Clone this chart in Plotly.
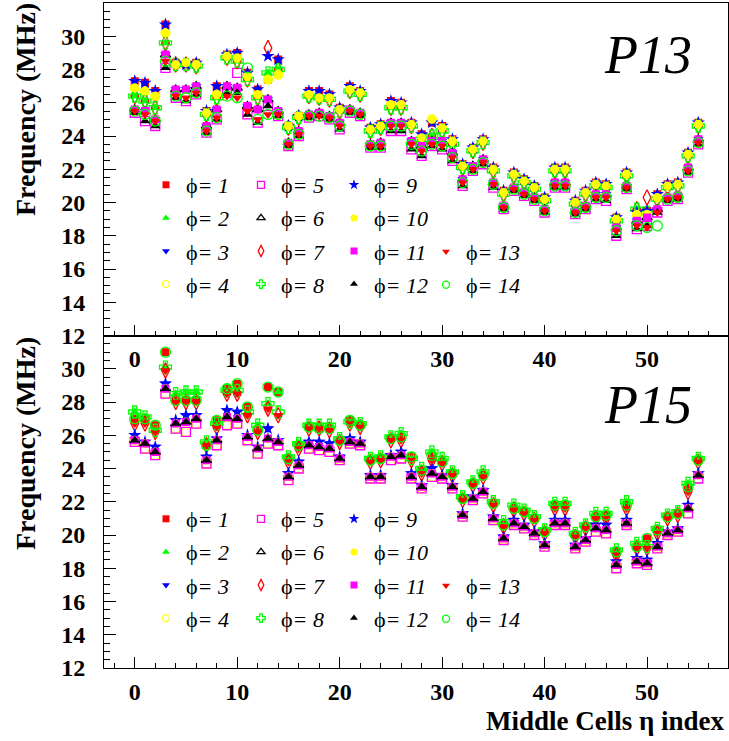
import plotly.graph_objects as go

# ---------------- data ----------------
eta_index = list(range(56))

# P13 : six clusters of values per eta index (upper group: hi/mid/lo, lower group: hi/mid/lo)
p13_up_hi = [27.3, 27.2, 26.7, 30.7, 28.4, 28.3, 28.4, 25.5, 27.0, 28.9,
             29.0, 27.8, 26.8, 28.8, 28.6, 24.6, 25.2, 26.7, 26.7, 26.5,
             25.7, 27.0, 26.7, 24.5, 24.7, 26.1, 26.0, 24.8, 24.1, 24.8,
             24.6, 23.8, 22.3, 23.3, 23.8, 22.1, 20.7, 21.8, 21.4, 21.0,
             20.3, 22.1, 22.1, 20.1, 20.7, 21.2, 21.1, 19.1, 21.8, 19.4,
             19.5, 20.5, 21.1, 21.2, 23.0, 24.8]
p13_up_mid = [26.9, 26.7, 26.4, 30.2, 28.3, 28.4, 28.3, 25.4, 26.5, 28.8,
              28.7, 27.6, 26.5, 27.4, 27.7, 24.6, 25.2, 26.5, 26.3, 26.3,
              25.6, 26.8, 26.6, 24.4, 24.6, 25.9, 25.9, 24.7, 23.9, 25.0,
              24.5, 23.7, 22.2, 23.2, 23.7, 22.0, 20.6, 21.7, 21.3, 20.9,
              20.2, 22.0, 22.0, 20.0, 20.6, 21.1, 21.0, 19.0, 21.7, 19.3,
              19.3, 20.3, 21.0, 21.1, 22.9, 24.7]
p13_up_lo = [26.4, 26.1, 25.7, 29.6, 28.3, 28.3, 28.2, 25.3, 26.3, 28.7,
             28.5, 27.4, 26.3, 27.8, 28.0, 24.5, 25.1, 26.4, 26.3, 26.2,
             25.5, 26.7, 26.5, 24.3, 24.5, 25.7, 25.7, 24.6, 23.8, 24.0,
             24.3, 23.5, 22.1, 23.1, 23.6, 21.9, 20.5, 21.6, 21.2, 20.8,
             20.1, 21.9, 21.9, 19.9, 20.5, 21.0, 20.9, 18.9, 21.6, 19.6,
             19.4, 20.2, 20.9, 21.0, 22.8, 24.6]
p13_low_hi = [25.6, 25.5, 25.0, 28.9, 26.8, 26.8, 27.0, 24.6, 25.6, 27.0,
              26.9, 25.8, 25.6, 26.2, 25.5, 23.6, 24.3, 25.3, 25.4, 25.2,
              24.8, 25.6, 25.4, 23.5, 23.6, 24.8, 24.8, 23.7, 23.4, 23.7,
              23.7, 23.0, 21.4, 22.2, 22.6, 21.2, 19.8, 20.9, 20.6, 20.3,
              19.6, 21.2, 21.2, 19.5, 19.8, 20.5, 20.5, 18.5, 21.0, 18.9,
              19.1, 19.6, 20.3, 20.4, 22.1, 23.8]
p13_low_mid = [25.5, 25.3, 24.9, 28.5, 26.4, 26.3, 26.6, 24.3, 25.1, 26.4,
               26.3, 25.5, 25.0, 25.3, 25.3, 23.5, 24.1, 25.2, 25.2, 25.1,
               24.6, 25.5, 25.3, 23.4, 23.4, 24.6, 24.6, 23.5, 23.1, 23.5,
               23.4, 22.7, 21.2, 22.0, 22.4, 21.1, 19.7, 20.8, 20.5, 20.2,
               19.5, 21.0, 21.0, 19.4, 19.7, 20.3, 20.3, 18.3, 20.9, 18.6,
               18.5, 19.4, 20.2, 20.3, 21.9, 23.6]
p13_low_lo = [25.4, 24.9, 24.6, 28.1, 26.3, 26.1, 26.5, 24.2, 25.0, 26.6,
              26.6, 25.3, 24.8, 25.8, 25.2, 23.4, 24.0, 25.1, 25.2, 25.0,
              24.4, 25.4, 25.2, 23.3, 23.3, 24.3, 24.3, 23.2, 22.8, 23.4,
              23.2, 22.5, 21.0, 21.9, 22.3, 20.9, 19.6, 20.7, 20.4, 20.1,
              19.4, 20.9, 20.9, 19.3, 19.6, 20.2, 20.1, 18.0, 20.8, 18.4,
              18.6, 19.4, 20.1, 20.2, 21.8, 23.5]

# P15
p15_up_hi = [27.0, 27.0, 26.6, 31.0, 28.1, 28.1, 28.1, 25.4, 26.9, 28.8,
             29.1, 27.7, 26.3, 28.9, 28.6, 24.6, 25.4, 26.5, 26.4, 26.4,
             25.7, 26.9, 26.6, 24.5, 24.6, 25.8, 25.9, 24.7, 23.9, 24.8,
             24.4, 23.7, 22.2, 23.1, 23.6, 21.9, 20.6, 21.6, 21.4, 21.0,
             20.2, 21.8, 21.8, 20.0, 20.5, 21.1, 21.2, 19.0, 21.8, 19.3,
             19.8, 20.3, 21.1, 21.3, 22.9, 24.5]
p15_up_mid = [27.4, 27.1, 26.3, 30.1, 28.5, 28.6, 28.6, 25.6, 26.7, 28.7,
              28.7, 27.4, 26.6, 27.9, 27.4, 24.7, 25.5, 26.6, 26.6, 26.6,
              25.8, 26.8, 26.7, 24.6, 24.7, 25.9, 26.1, 24.6, 24.0, 25.0,
              24.6, 23.8, 22.3, 23.2, 23.8, 22.0, 20.8, 21.8, 21.5, 21.1,
              20.3, 21.9, 21.9, 20.1, 20.6, 21.3, 21.3, 19.1, 22.0, 19.5,
              19.3, 20.4, 21.2, 21.4, 23.1, 24.6]
p15_up_lo = [26.7, 26.7, 26.2, 29.9, 28.0, 28.0, 28.0, 25.4, 26.5, 28.5,
             28.5, 27.2, 26.2, 27.6, 27.2, 24.4, 25.2, 26.4, 26.4, 26.3,
             25.6, 26.7, 26.5, 24.4, 24.5, 25.7, 25.7, 24.5, 23.7, 24.5,
             24.3, 23.6, 22.1, 23.0, 23.5, 21.8, 20.5, 21.5, 21.3, 20.9,
             20.1, 21.6, 21.6, 19.9, 20.4, 21.0, 21.0, 18.8, 21.6, 19.2,
             19.2, 20.1, 21.0, 21.2, 22.6, 24.4]
p15_low_hi = [26.0, 25.6, 25.3, 29.1, 26.9, 27.2, 27.2, 24.7, 25.8, 27.5,
              27.4, 26.0, 25.3, 26.4, 25.7, 23.7, 24.4, 25.6, 25.6, 25.5,
              24.7, 25.8, 25.6, 23.6, 23.6, 24.8, 25.0, 23.7, 23.0, 24.0,
              23.6, 23.0, 21.3, 22.3, 22.7, 21.1, 19.9, 20.9, 20.6, 20.2,
              19.5, 20.9, 20.9, 19.4, 19.8, 20.6, 20.6, 18.4, 20.9, 18.6,
              18.5, 19.5, 20.2, 20.4, 21.8, 23.7]
p15_low_mid = [25.7, 25.5, 25.0, 28.8, 26.7, 26.8, 27.0, 24.5, 25.7, 27.1,
               27.0, 25.9, 25.2, 25.8, 25.6, 23.5, 24.2, 25.4, 25.3, 25.2,
               24.6, 25.6, 25.5, 23.5, 23.5, 24.7, 24.8, 23.5, 22.9, 23.7,
               23.5, 22.9, 21.2, 22.2, 22.6, 21.0, 19.8, 20.7, 20.5, 20.1,
               19.4, 20.7, 20.7, 19.3, 19.7, 20.4, 20.3, 18.2, 20.7, 18.4,
               18.3, 19.3, 20.1, 20.3, 21.6, 23.6]
p15_low_lo = [25.6, 25.2, 24.8, 28.5, 26.4, 26.2, 26.7, 24.3, 25.4, 26.6,
              26.7, 25.7, 24.9, 25.5, 25.4, 23.3, 24.0, 25.2, 25.1, 25.0,
              24.5, 25.5, 25.4, 23.4, 23.4, 24.5, 24.6, 23.4, 22.8, 23.5,
              23.4, 22.8, 21.1, 22.1, 22.5, 20.9, 19.7, 20.6, 20.4, 20.0,
              19.3, 20.6, 20.6, 19.2, 19.6, 20.2, 20.1, 18.0, 20.6, 18.3,
              18.2, 19.2, 20.0, 20.2, 21.3, 23.4]

# which cluster each phi channel sits in (as seen in the picture)
p13_cluster_of_phi = {1: p13_up_hi, 9: p13_up_hi, 4: p13_up_mid, 10: p13_up_mid,
                      2: p13_up_lo, 7: p13_up_lo, 8: p13_up_lo,
                      3: p13_low_hi, 6: p13_low_hi, 11: p13_low_hi,
                      13: p13_low_mid, 14: p13_low_mid, 5: p13_low_lo, 12: p13_low_lo}
p15_cluster_of_phi = {1: p15_up_hi, 14: p15_up_hi, 2: p15_up_mid, 8: p15_up_mid,
                      7: p15_up_lo, 13: p15_up_lo, 3: p15_low_hi, 9: p15_low_hi,
                      6: p15_low_mid, 10: p15_low_mid, 11: p15_low_mid, 12: p15_low_mid,
                      4: p15_low_lo, 5: p15_low_lo}
# individual points that stand apart from their cluster: {phi: {eta: value}}
p13_outliers = {7: {13: 29.3, 50: 20.3}, 14: {11: 28.1, 51: 18.6}, 5: {10: 27.8}, 1: {13: 27.4}}
p15_outliers = {2: {14: 28.6}}

phi_channels = list(range(1, 15))
y_tick_values = [12, 14, 16, 18, 20, 22, 24, 26, 28, 30]
x_tick_values = [0, 10, 20, 30, 40, 50]
y_tick_text = ["<b>12</b>", "<b>14</b>", "<b>16</b>", "<b>18</b>", "<b>20</b>",
               "<b>22</b>", "<b>24</b>", "<b>26</b>", "<b>28</b>", "<b>30</b>"]
x_tick_text = ["<b>0</b>", "<b>10</b>", "<b>20</b>", "<b>30</b>", "<b>40</b>", "<b>50</b>"]

# ---------------- styles ----------------
RED, GREEN, BLUE, YEL, MAG, BLK = "#ff0000", "#00ff00", "#0000ff", "#ffff00", "#ff00ff", "#000000"
style = {
    1: ("square", RED, 8), 2: ("triangle-up", GREEN, 9), 3: ("triangle-down", BLUE, 9),
    4: ("circle-open", YEL, 9), 5: ("square-open", MAG, 9), 6: ("triangle-up-open", BLK, 9),
    7: ("diamond-tall-open", RED, 11), 8: ("cross-open", GREEN, 10), 9: ("star", BLUE, 10),
    10: ("circle", YEL, 9), 11: ("square", MAG, 8), 12: ("triangle-up", BLK, 9),
    13: ("triangle-down", RED, 9), 14: ("circle-open", GREEN, 10),
}
legend_marker_size = {1: 7, 2: 7, 3: 7, 4: 7, 5: 7, 6: 7, 7: 8, 8: 7, 9: 8, 10: 7, 11: 7, 12: 7, 13: 7, 14: 7}

W, H = 729, 741
ML, MR, MT, MB = 104, 1, 3, 73
PW, PH = W - ML - MR, H - MT - MB
px2x = lambda px: (px - ML) / PW
py2y = lambda py: (H - MB - py) / PH

SERIF = "Liberation Serif"

fig = go.Figure()


def marker_dict(k, size):
    sym, col, _ = style[k]
    is_open = sym.endswith("-open")
    return dict(symbol=sym, color=col, size=size,
                line=dict(color=col, width=1.3 if is_open else 0))


panels = [("x", "y", p13_cluster_of_phi, p13_outliers, 0),
          ("x2", "y2", p15_cluster_of_phi, p15_outliers, 4)]
for xa, ya, cluster, outl, leg0 in panels:
    for k in phi_channels:
        vals = list(cluster[k])
        for e, v in outl.get(k, {}).items():
            vals[e] = v
        fig.add_trace(go.Scatter(x=eta_index, y=vals, mode="markers", xaxis=xa, yaxis=ya,
                                 marker=marker_dict(k, style[k][2]), showlegend=False,
                                 hoverinfo="x+y", name=f"phi={k}"))
    # legend entries (column-wise, like the original)
    for k in phi_channels:
        if k <= 4:
            col = 0
        elif k <= 8:
            col = 1
        elif k <= 12:
            col = 2
        else:
            col = 3
        idx = leg0 + col
        lname = "legend" if idx == 0 else f"legend{idx + 1}"
        fig.add_trace(go.Scatter(x=[None], y=[None], mode="markers", xaxis=xa, yaxis=ya,
                                 marker=marker_dict(k, legend_marker_size[k]),
                                 name=f"ϕ<i>= {k}</i>", legend=lname, legendgroup=f"{xa}g{k}",
                                 showlegend=True))

# legends
marker_cols = [167, 262, 355, 447]
row0 = {0: 187, 4: 521}
ROW_STEP = 33.4
layout_legends = {}
for leg0 in (0, 4):
    for col in range(4):
        idx = leg0 + col
        lname = "legend" if idx == 0 else f"legend{idx + 1}"
        top_row = row0[leg0] + (2 * ROW_STEP if col == 3 else 0)
        layout_legends[lname] = dict(
            x=px2x(marker_cols[col] - 21), y=py2y(top_row - 23), xanchor="left", yanchor="top",
            bgcolor="rgba(0,0,0,0)", borderwidth=0, tracegroupgap=1.5,
            font=dict(family=SERIF, size=22, color="black"), itemsizing="trace",
            orientation="v")

axis_common = dict(showline=True, linecolor="black", linewidth=1, mirror=True,
                   showgrid=False, zeroline=False, ticks="inside", tickcolor="black",
                   tickwidth=1, tickfont=dict(family=SERIF, size=24, color="black"))
xcommon = dict(axis_common, range=[-3.0, 57.9], tickmode="array", tickvals=x_tick_values,
               ticktext=x_tick_text, ticklen=11, ticklabelstandoff=2,
               minor=dict(tickmode="linear", tick0=0, dtick=2, ticklen=5, ticks="inside",
                          tickcolor="black", tickwidth=1, showgrid=False))
ycommon = dict(axis_common, range=[12, 32], tickmode="array", tickvals=y_tick_values,
               ticktext=y_tick_text, ticklen=12, ticklabelstandoff=13,
               minor=dict(tickmode="linear", tick0=12, dtick=0.5, ticklen=6, ticks="inside",
                          tickcolor="black", tickwidth=1, showgrid=False))

fig.update_layout(
    width=W, height=H, margin=dict(l=ML, r=MR, t=MT, b=MB, autoexpand=False),
    paper_bgcolor="white", plot_bgcolor="rgba(0,0,0,0)",
    xaxis=dict(xcommon, domain=[0, 1], anchor="y"),
    yaxis=dict(ycommon, domain=[0.5, 1], anchor="x"),
    xaxis2=dict(xcommon, domain=[0, 1], anchor="y2"),
    yaxis2=dict(ycommon, domain=[0, 0.5], anchor="x2"),
    **layout_legends,
)

ann = []
for yc in (110, 444):
    ann.append(dict(text="<b>Frequency (MHz)</b>", x=px2x(25), y=py2y(yc), xref="paper", yref="paper",
                    textangle=-90, showarrow=False, xanchor="center", yanchor="middle",
                    font=dict(family=SERIF, size=28, color="black")))
ann.append(dict(text="<i>P13</i>", x=px2x(648), y=py2y(55), xref="paper", yref="paper",
                showarrow=False, xanchor="center", yanchor="middle",
                font=dict(family=SERIF, size=54, color="black")))
ann.append(dict(text="<i>P15</i>", x=px2x(648), y=py2y(405), xref="paper", yref="paper",
                showarrow=False, xanchor="center", yanchor="middle",
                font=dict(family=SERIF, size=54, color="black")))
ann.append(dict(text="<b>Middle Cells η index</b>", x=px2x(727), y=py2y(721), xref="paper", yref="paper",
                showarrow=False, xanchor="right", yanchor="middle",
                font=dict(family=SERIF, size=27, color="black")))
fig.update_layout(annotations=ann)

fig.write_html("out.html", config={"displayModeBar": False},
               post_script="document.body.style.margin='0px';document.body.style.padding='0px';")
